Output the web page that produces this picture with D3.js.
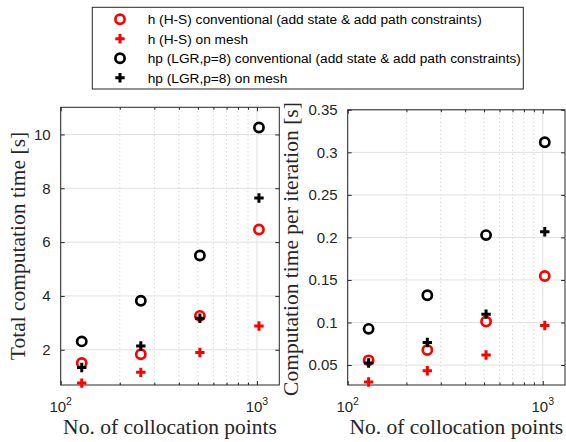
<!DOCTYPE html>
<html><head><meta charset="utf-8">
<script src="https://cdn.jsdelivr.net/npm/d3@7"></script>
<style>
html,body{margin:0;padding:0;background:#fff;}
svg{display:block;}
</style></head>
<body>
<svg id="chart" width="566" height="442"></svg>
<script>
// ---- data ----
const nPoints = [128, 256, 512, 1024];
const seriesNames = [
  "h (H-S) conventional (add state & add path constraints)",
  "h (H-S) on mesh",
  "hp (LGR,p=8) conventional (add state & add path constraints)",
  "hp (LGR,p=8) on mesh"
];
const seriesColors = ["#ff0000", "#ff0000", "#000000", "#000000"];
const seriesMarkers = ["circle", "plus", "circle", "plus"];
const totalHConv  = [1.51, 1.83, 3.26, 6.47];
const totalHMesh  = [0.76, 1.16, 1.90, 2.88];
const totalHpConv = [2.31, 3.82, 5.50, 10.26];
const totalHpMesh = [1.34, 2.14, 3.17, 7.64];
const iterHConv   = [0.0555, 0.0676, 0.1012, 0.1547];
const iterHMesh   = [0.0300, 0.0433, 0.0618, 0.0965];
const iterHpConv  = [0.0925, 0.1320, 0.2027, 0.3118];
const iterHpMesh  = [0.0524, 0.0765, 0.1098, 0.2066];
const leftYTicks  = [2, 4, 6, 8, 10];
const rightYTicks = [0.05, 0.1, 0.15, 0.2, 0.25, 0.3, 0.35];
const xMajorTicks = [100, 1000];
const xMinorTicks = [200, 300, 400, 500, 600, 700, 800, 900];
const xLabel = "No. of collocation points";
const leftYLabel = "Total computation time [s]";
const rightYLabel = "Computation time per iteration [s]";

const svg = d3.select("#chart");
const axisColor = "#262626";
const sans = "'Liberation Sans', Arial, sans-serif";
const serif = "'Liberation Serif', 'Times New Roman', serif";

function panel(opt) {
  const x = d3.scaleLog().domain([100, 1300]).range([opt.x0, opt.x1]);
  const y = d3.scaleLinear().domain(opt.yDomain).range([opt.y1, opt.y0]);
  const g = svg.append("g");
  // minor vertical dotted grid
  g.selectAll(".mg").data(xMinorTicks).enter().append("line")
    .attr("x1", d => x(d)).attr("x2", d => x(d))
    .attr("y1", opt.y0).attr("y2", opt.y1)
    .attr("stroke", "#c8c8c8").attr("stroke-width", 1)
    .attr("stroke-dasharray", "1,3");
  // major grid
  g.selectAll(".gx").data(xMajorTicks).enter().append("line")
    .attr("x1", d => x(d)).attr("x2", d => x(d))
    .attr("y1", opt.y0).attr("y2", opt.y1)
    .attr("stroke", "#e1e1e1").attr("stroke-width", 1);
  g.selectAll(".gy").data(opt.yTicks).enter().append("line")
    .attr("x1", opt.x0).attr("x2", opt.x1)
    .attr("y1", d => y(d)).attr("y2", d => y(d))
    .attr("stroke", "#e1e1e1").attr("stroke-width", 1);

  // axes via d3 (inward ticks)
  const yAxisL = d3.axisLeft(y).tickValues(opt.yTicks).tickSizeInner(-4).tickSizeOuter(0)
    .tickPadding(10).tickFormat(opt.fmt);
  const ya = g.append("g").attr("transform", `translate(${opt.x0},0)`).call(yAxisL);
  ya.select(".domain").remove();
  ya.selectAll("line").attr("stroke", axisColor);
  ya.selectAll("text").attr("font-family", sans).attr("font-size", 15).attr("fill", axisColor);
  const yAxisR = d3.axisRight(y).tickValues(opt.yTicks).tickSizeInner(-4).tickSizeOuter(0).tickFormat("");
  const yr = g.append("g").attr("transform", `translate(${opt.x1},0)`).call(yAxisR);
  yr.select(".domain").remove();
  yr.selectAll("line").attr("stroke", axisColor);

  const allX = xMajorTicks.concat(xMinorTicks);
  const xAxisB = d3.axisBottom(x).tickValues(allX).tickSizeInner(-4).tickSizeOuter(0).tickFormat("");
  const xb = g.append("g").attr("transform", `translate(0,${opt.y1})`).call(xAxisB);
  xb.select(".domain").remove();
  xb.selectAll("line").attr("stroke", axisColor).attr("y2", d => xMajorTicks.includes(d) ? -4 : -2.5);
  const xAxisT = d3.axisTop(x).tickValues(allX).tickSizeInner(-4).tickSizeOuter(0).tickFormat("");
  const xt = g.append("g").attr("transform", `translate(0,${opt.y0})`).call(xAxisT);
  xt.select(".domain").remove();
  xt.selectAll("line").attr("stroke", axisColor).attr("y2", d => xMajorTicks.includes(d) ? 4 : 2.5);

  // x tick labels 10^n
  xMajorTicks.forEach(v => {
    const t = g.append("text").attr("x", x(v)).attr("y", opt.y1 + 27)
      .attr("text-anchor", "middle").attr("font-family", sans)
      .attr("font-size", 15).attr("fill", axisColor);
    t.append("tspan").text("10");
    t.append("tspan").attr("dy", -7).attr("font-size", 10.5).text(String(Math.round(Math.log10(v))));
  });

  // frame
  g.append("rect").attr("x", opt.x0).attr("y", opt.y0)
    .attr("width", opt.x1 - opt.x0).attr("height", opt.y1 - opt.y0)
    .attr("fill", "none").attr("stroke", axisColor).attr("stroke-width", 1);

  // labels
  g.append("text").attr("x", (opt.x0 + opt.x1) / 2).attr("y", 434)
    .attr("text-anchor", "middle").attr("font-family", serif)
    .attr("font-size", 21.5).attr("fill", axisColor).text(xLabel);
  g.append("text")
    .attr("transform", `translate(${opt.ylx},${opt.yly}) rotate(-90)`)
    .attr("text-anchor", "middle").attr("font-family", serif)
    .attr("font-size", 21.5).attr("fill", axisColor).text(opt.ylabel);

  // data
  opt.series.forEach((vals, i) => {
    const pts = nPoints.map((n, k) => [x(n), y(vals[k])]);
    drawMarkers(g, pts, seriesMarkers[i], seriesColors[i]);
  });
}

function drawMarkers(g, pts, type, color) {
  if (type === "circle") {
    g.selectAll(null).data(pts).enter().append("circle")
      .attr("cx", d => d[0]).attr("cy", d => d[1]).attr("r", 4.6)
      .attr("fill", "none").attr("stroke", color).attr("stroke-width", 2.7);
  } else {
    const s = 4.7;
    g.selectAll(null).data(pts).enter().append("path")
      .attr("d", d => `M${d[0]-s},${d[1]}H${d[0]+s}M${d[0]},${d[1]-s}V${d[1]+s}`)
      .attr("fill", "none").attr("stroke", color).attr("stroke-width", 3);
  }
}

panel({
  x0: 60.7, x1: 279.3, y0: 107.3, y1: 385,
  yDomain: [0.69, 11.01], yTicks: leftYTicks, fmt: d3.format("d"),
  ylabel: leftYLabel, ylx: 25, yly: 246,
  series: [totalHConv, totalHMesh, totalHpConv, totalHpMesh]
});
panel({
  x0: 347.7, x1: 565, y0: 109.8, y1: 385,
  yDomain: [0.0265, 0.35], yTicks: rightYTicks, fmt: d => String(+d.toFixed(2)),
  ylabel: rightYLabel, ylx: 298, yly: 249,
  series: [iterHConv, iterHMesh, iterHpConv, iterHpMesh]
});

// legend
const leg = svg.append("g");
leg.append("rect").attr("x", 92.3).attr("y", 7.3).attr("width", 431).attr("height", 81.7)
  .attr("fill", "#fff").attr("stroke", axisColor).attr("stroke-width", 1);
const rowY = d3.scalePoint().domain(d3.range(seriesNames.length)).range([19.3, 77.7]);
seriesNames.forEach((name, i) => {
  drawMarkers(leg, [[120, rowY(i)]], seriesMarkers[i], seriesColors[i]);
  leg.append("text").attr("x", 147.7).attr("y", rowY(i) + 5)
    .attr("font-family", sans).attr("font-size", 13.7).attr("fill", "#000").text(name);
});
</script>
</body></html>
